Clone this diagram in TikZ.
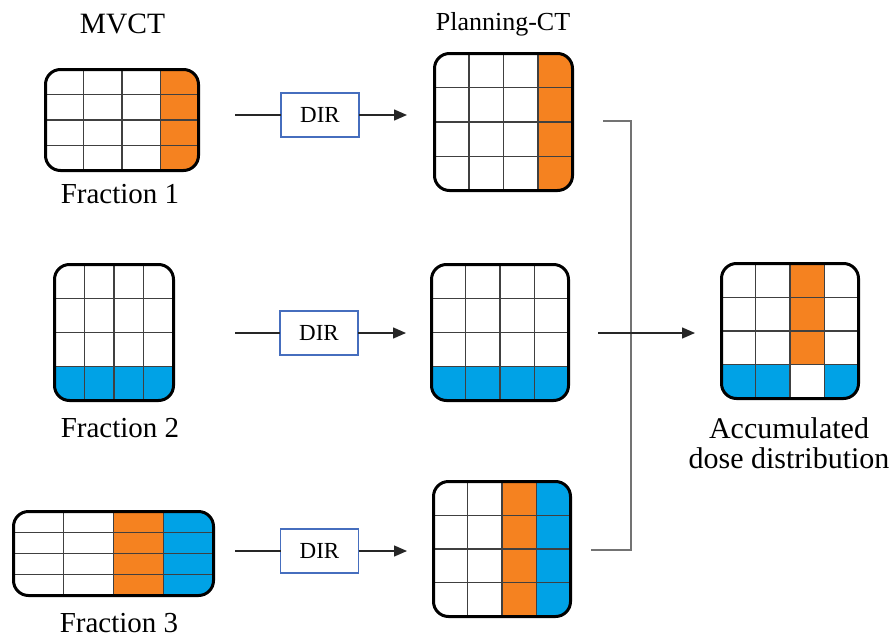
\documentclass[tikz,border=0pt]{standalone}
\usepackage{fontspec}
\setmainfont{Liberation Serif}
\usetikzlibrary{arrows.meta,positioning}
\definecolor{doseorange}{RGB}{245,130,32}
\definecolor{doseblue}{RGB}{0,162,230}
\definecolor{dirframe}{RGB}{70,110,190}
\definecolor{gridgray}{gray}{0.25}

\begin{document}
\begin{tikzpicture}[
	x=1pt, y=-1pt,
	>={Triangle[length=13pt, width=11pt]},
	every node/.style={outer sep=0pt},
	mapbox/.style={rectangle, inner sep=0pt},
	mapframe/.style={draw=black, line width=3pt, rounded corners=15pt},
	gridline/.style={draw=gridgray, line width=1.1pt},
	dirbox/.style={rectangle, draw=dirframe, line width=1.2pt, fill=white,
		minimum width=78pt, minimum height=44pt, inner sep=0pt,
		font=\fontsize{23}{24}\selectfont},
	flow/.style={draw=black!85, line width=1.4pt},
	mergeline/.style={draw=black!55, line width=1.6pt},
	caption/.style={anchor=base, inner sep=0pt, font=\fontsize{29}{30}\selectfont},
]
\useasboundingbox (0,0) rectangle (894,637);
% \dosemap{name}{centre}{width}{height}{cells as col0/row0/col1/row1/colour}
\def\dosemap#1#2#3#4#5{
	\node[mapbox, minimum width=#3pt, minimum height=#4pt] (#1) at (#2) {};
	\begin{scope}
		\clip[rounded corners=15pt] (#1.south west) rectangle (#1.north east);
		\begin{scope}[shift={(#1.north west)}]
			\foreach \ca/\ra/\cb/\rb/\col in {#5}
				\fill[\col] (\ca*#3/4, \ra*#4/4) rectangle (\cb*#3/4, \rb*#4/4);
			\foreach \i in {1,2,3} {
				\draw[gridline] (\i*#3/4, 0) -- (\i*#3/4, #4);
				\draw[gridline] (0, \i*#4/4) -- (#3, \i*#4/4);
			}
		\end{scope}
	\end{scope}
	\draw[mapframe] (#1.south west) rectangle (#1.north east);
}
	% MVCT fractions
	\node[caption, font=\fontsize{29.5}{30}\selectfont] (mvct) at (122.5,33) {MVCT};
	\dosemap{F1}{122,120}{153}{101}{3/0/4/4/doseorange}
	\dosemap{F2}{114,332.5}{119}{136}{0/3/4/4/doseblue}
	\dosemap{F3}{113.5,553.5}{200}{84}{2/0/3/4/doseorange, 3/0/4/4/doseblue}
	\node[caption] (F1lab) at (120,203) {Fraction 1};
	\node[caption] (F2lab) at (120,437) {Fraction 2};
	\node[caption] (F3lab) at (119,632) {Fraction 3};

	% planning CT
	\node[caption, font=\fontsize{26}{28}\selectfont] (pct) at (503,30) {Planning-CT};
	\dosemap{P1}{503.5,122}{138}{137}{3/0/4/4/doseorange}
	\dosemap{P2}{500,332.5}{137}{136}{0/3/4/4/doseblue}
	\dosemap{P3}{502,549}{137}{135}{2/0/3/4/doseorange, 3/0/4/4/doseblue}

	% accumulated dose
	\dosemap{acc}{790,331}{137}{135}{2/0/3/3/doseorange, 0/3/2/4/doseblue, 3/3/4/4/doseblue}
	\node[caption, align=center, font=\fontsize{30}{30}\selectfont] (acclab) at (789,468)
		{Accumulated\\dose distribution};

	% registration
	\node[dirbox] (D1) at (320,115) {DIR};
	\node[dirbox] (D2) at (319,333) {DIR};
	\node[dirbox] (D3) at (319.5,551) {DIR};
	\coordinate (in1) at (235,115);
	\coordinate (in2) at (235,333);
	\coordinate (in3) at (235,551);
	\coordinate (tip1) at (407,115);
	\coordinate (tip2) at (406,333);
	\coordinate (tip3) at (407,551);
	\foreach \k in {1,2,3} {
		\draw[flow] (in\k) -- (D\k);
		\draw[flow, ->] (D\k) -- (tip\k);
	}

	% merging
	\coordinate (m1) at (603,121);
	\coordinate (m2) at (598,333);
	\coordinate (m3) at (591,550);
	\coordinate (acctip) at (695,333);
	\draw[mergeline] (m1) -- ++(28,0) |- (m3);
	\draw[flow, ->] (m2) -- (acctip);
\end{tikzpicture}
\end{document}
